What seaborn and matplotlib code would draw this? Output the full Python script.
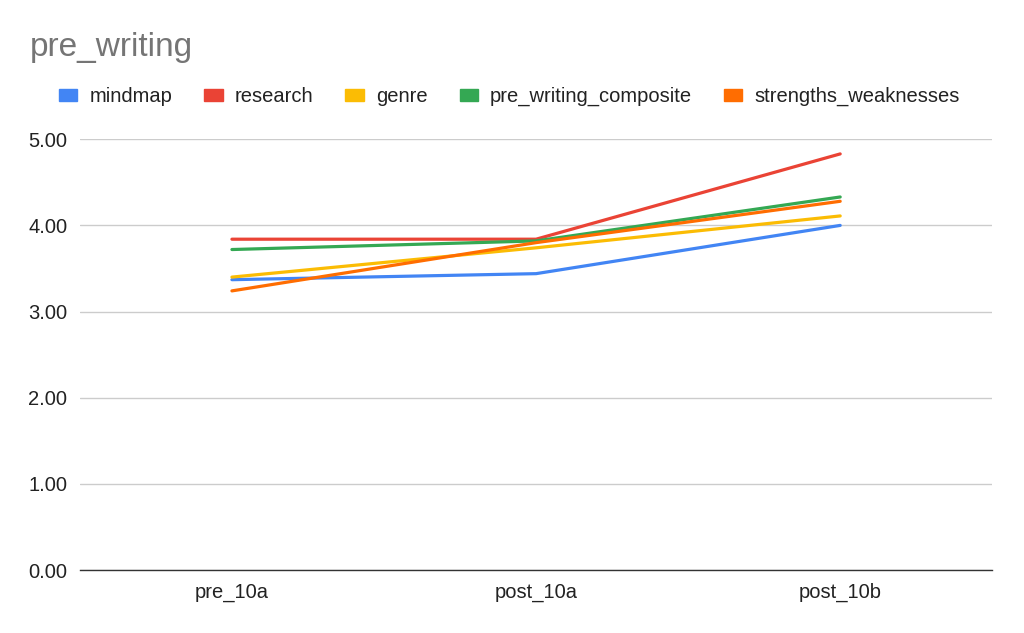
import numpy as np
import pandas as pd
from matplotlib import pyplot as plt
from matplotlib.patches import Rectangle
import seaborn as sns

tests = ['pre_10a', 'post_10a', 'post_10b']
mindmap = [3.37, 3.44, 4.00]
research = [3.84, 3.84, 4.83]
genre = [3.40, 3.74, 4.11]
pre_writing_composite = [3.72, 3.82, 4.33]
strengths_weaknesses = [3.24, 3.80, 4.28]

series = ['mindmap', 'research', 'genre', 'pre_writing_composite', 'strengths_weaknesses']
colors = ['#4285F4', '#EA4335', '#FBBC04', '#34A853', '#FF6D01']

df = pd.DataFrame({'test': tests, 'mindmap': mindmap, 'research': research, 'genre': genre,
                   'pre_writing_composite': pre_writing_composite,
                   'strengths_weaknesses': strengths_weaknesses})
long = df.melt(id_vars='test', var_name='series', value_name='score')

sns.set_style('white')
plt.rcParams['font.family'] = ['Liberation Sans', 'DejaVu Sans']

fig = plt.figure(figsize=(10.24, 6.33), dpi=100)
ax = fig.add_axes([0.078, 0.0995, 0.891, 0.6805])

sns.lineplot(data=long, x='test', y='score', hue='series', hue_order=series,
             palette=colors, linewidth=2.3, sort=False, ax=ax, legend=False)

ax.set_xlim(-0.5, 2.5)
ax.set_ylim(0, 5)
ax.set_yticks(np.arange(0, 5.01, 1))
ax.set_yticklabels([f'{v:.2f}' for v in np.arange(0, 5.01, 1)])
ax.yaxis.grid(True, color='#cccccc', linewidth=1)
ax.set_axisbelow(True)
for s in ['top', 'right', 'left']:
    ax.spines[s].set_visible(False)
ax.spines['bottom'].set_color('#333333')
ax.spines['bottom'].set_linewidth(1)
ax.tick_params(axis='both', length=0, labelsize=14.5, colors='#222222', pad=9)
ax.set_xlabel('')
ax.set_ylabel('')

fig.text(0.029, 0.925, 'pre_writing', fontsize=24, color='#757575', va='center')

handles = [Rectangle((0, 0), 1, 1, color=c) for c in colors]
fig.legend(handles, series, loc='center left', bbox_to_anchor=(0.04, 0.847), ncol=5,
           frameon=False, fontsize=14.5, handletextpad=0.6, columnspacing=1.6,
           handlelength=0.9, handleheight=0.5, labelcolor='#222222')

fig.savefig('out.png', dpi=100)
